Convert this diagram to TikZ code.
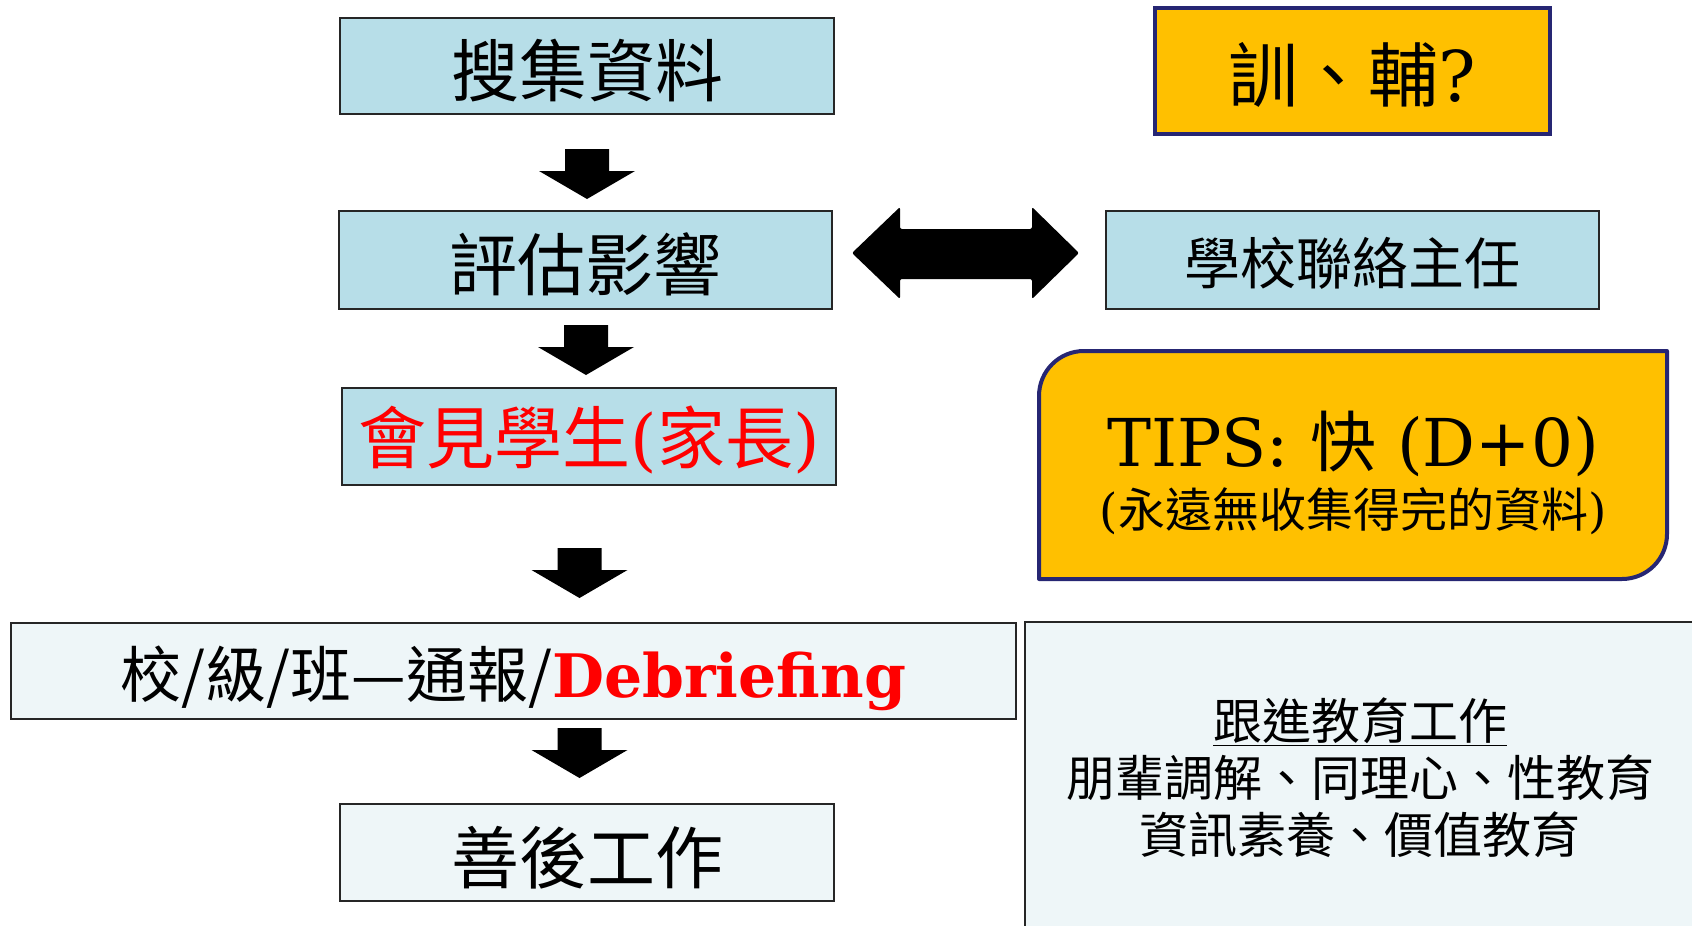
\documentclass[tikz,border=0pt]{standalone}
\usepackage{fontspec}
\newfontfamily\cjk{Noto Sans CJK TC}
\newfontfamily\ser{DejaVu Serif}
\definecolor{boxblue}{HTML}{B7DEE8}
\definecolor{palecol}{HTML}{EEF6F8}
\definecolor{goldfill}{HTML}{FFC000}
\definecolor{navy}{HTML}{262673}
\definecolor{redtxt}{HTML}{FF0000}
\newcommand\lowr[2]{\raisebox{-#1pt}[\height][\depth]{#2}}
\tikzset{
  basebox/.style={draw=black!85, line width=1.5pt, rectangle, inner sep=0pt, text=black},
  bluebox/.style={basebox, fill=boxblue},
  palebox/.style={basebox, fill=palecol},
  goldbox/.style={draw=navy, line width=4pt, fill=goldfill, rectangle, inner sep=0pt},
  bigcjk/.style={font=\cjk\fontsize{68}{80}\selectfont},
  downblk/.pic={\fill[black] (-22,0) -- (22,0) -- (22,22) -- (48,22) -- (0,50) -- (-48,22) -- (-22,22) -- cycle;}
}
\begin{document}
\begin{tikzpicture}[x=1pt,y=-1pt]
\useasboundingbox (0,0) rectangle (1692,926);

% left column
\node[bluebox, bigcjk, minimum width=494pt, minimum height=96pt] (collect) at (587,66) {\lowr{5}{搜集資料}};
\node[bluebox, bigcjk, minimum width=493pt, minimum height=98pt] (assess) at (585.5,260) {\lowr{4.5}{評估影響}};
\node[bluebox, bigcjk, minimum width=494pt, minimum height=97pt, text=redtxt] (meet) at (589,436.5)
  {\lowr{3}{會見學生{\ser(}家長{\ser)}}};
\node[palebox, font=\cjk\fontsize{61}{70}\selectfont, minimum width=1005pt, minimum height=96pt] (report) at (513.5,671)
  {\lowr{7}{校/級/班—通報/{\ser\bfseries\fontsize{60}{70}\selectfont\color{redtxt}Debriefing}}};
\node[palebox, bigcjk, minimum width=494pt, minimum height=97pt] (after) at (587,852.5) {\lowr{5}{善後工作}};

% block arrows down
\pic at (587,149) {downblk};
\pic at (586,325) {downblk};
\pic at (579.5,548) {downblk};
\pic at (579.5,728) {downblk};

% right column
\node[goldbox, font=\cjk\fontsize{70}{80}\selectfont, minimum width=395pt, minimum height=126pt] (guide) at (1352.5,71)
  {\lowr{4}{訓、輔{\ser ?}}};
\node[bluebox, font=\cjk\fontsize{56}{66}\selectfont, minimum width=493pt, minimum height=98pt] (liaison) at (1352.5,260)
  {\lowr{3}{學校聯絡主任}};

% double arrow
\fill[black, rounded corners=2pt] (852,253) -- (900,207) -- (900,229) -- (1032,229) -- (1032,207) -- (1079,253)
  -- (1032,299) -- (1032,279) -- (900,279) -- (900,299) -- cycle;

% TIPS box (rounded top-left and bottom-right)
\draw[draw=navy, line width=4pt, fill=goldfill, line join=round]
  (1039,579) -- (1039,396) .. controls (1039,371.1) and (1059.1,351) .. (1084,351)
  -- (1667,351) -- (1667,534) .. controls (1667,558.9) and (1646.9,579) .. (1622,579) -- cycle;
\node[font=\ser\fontsize{66}{76}\selectfont, inner sep=0pt] (tips) at (1353,444) {TIPS: {\cjk 快} (D+0)};
\node[font=\cjk\fontsize{47}{56}\selectfont, inner sep=0pt] (tipsnote) at (1353,511) {{\ser(}永遠無收集得完的資料{\ser)}};

% follow-up box
\node[palebox, minimum width=670pt, minimum height=306pt] (follow) at (1360,775) {};
\node[font=\cjk\fontsize{49}{57}\selectfont, align=center, inner sep=0pt] (followtxt) at (1360,778)
  {\underline{跟進教育工作}\\朋輩調解、同理心、性教育\\資訊素養、價值教育};
\end{tikzpicture}
\end{document}
